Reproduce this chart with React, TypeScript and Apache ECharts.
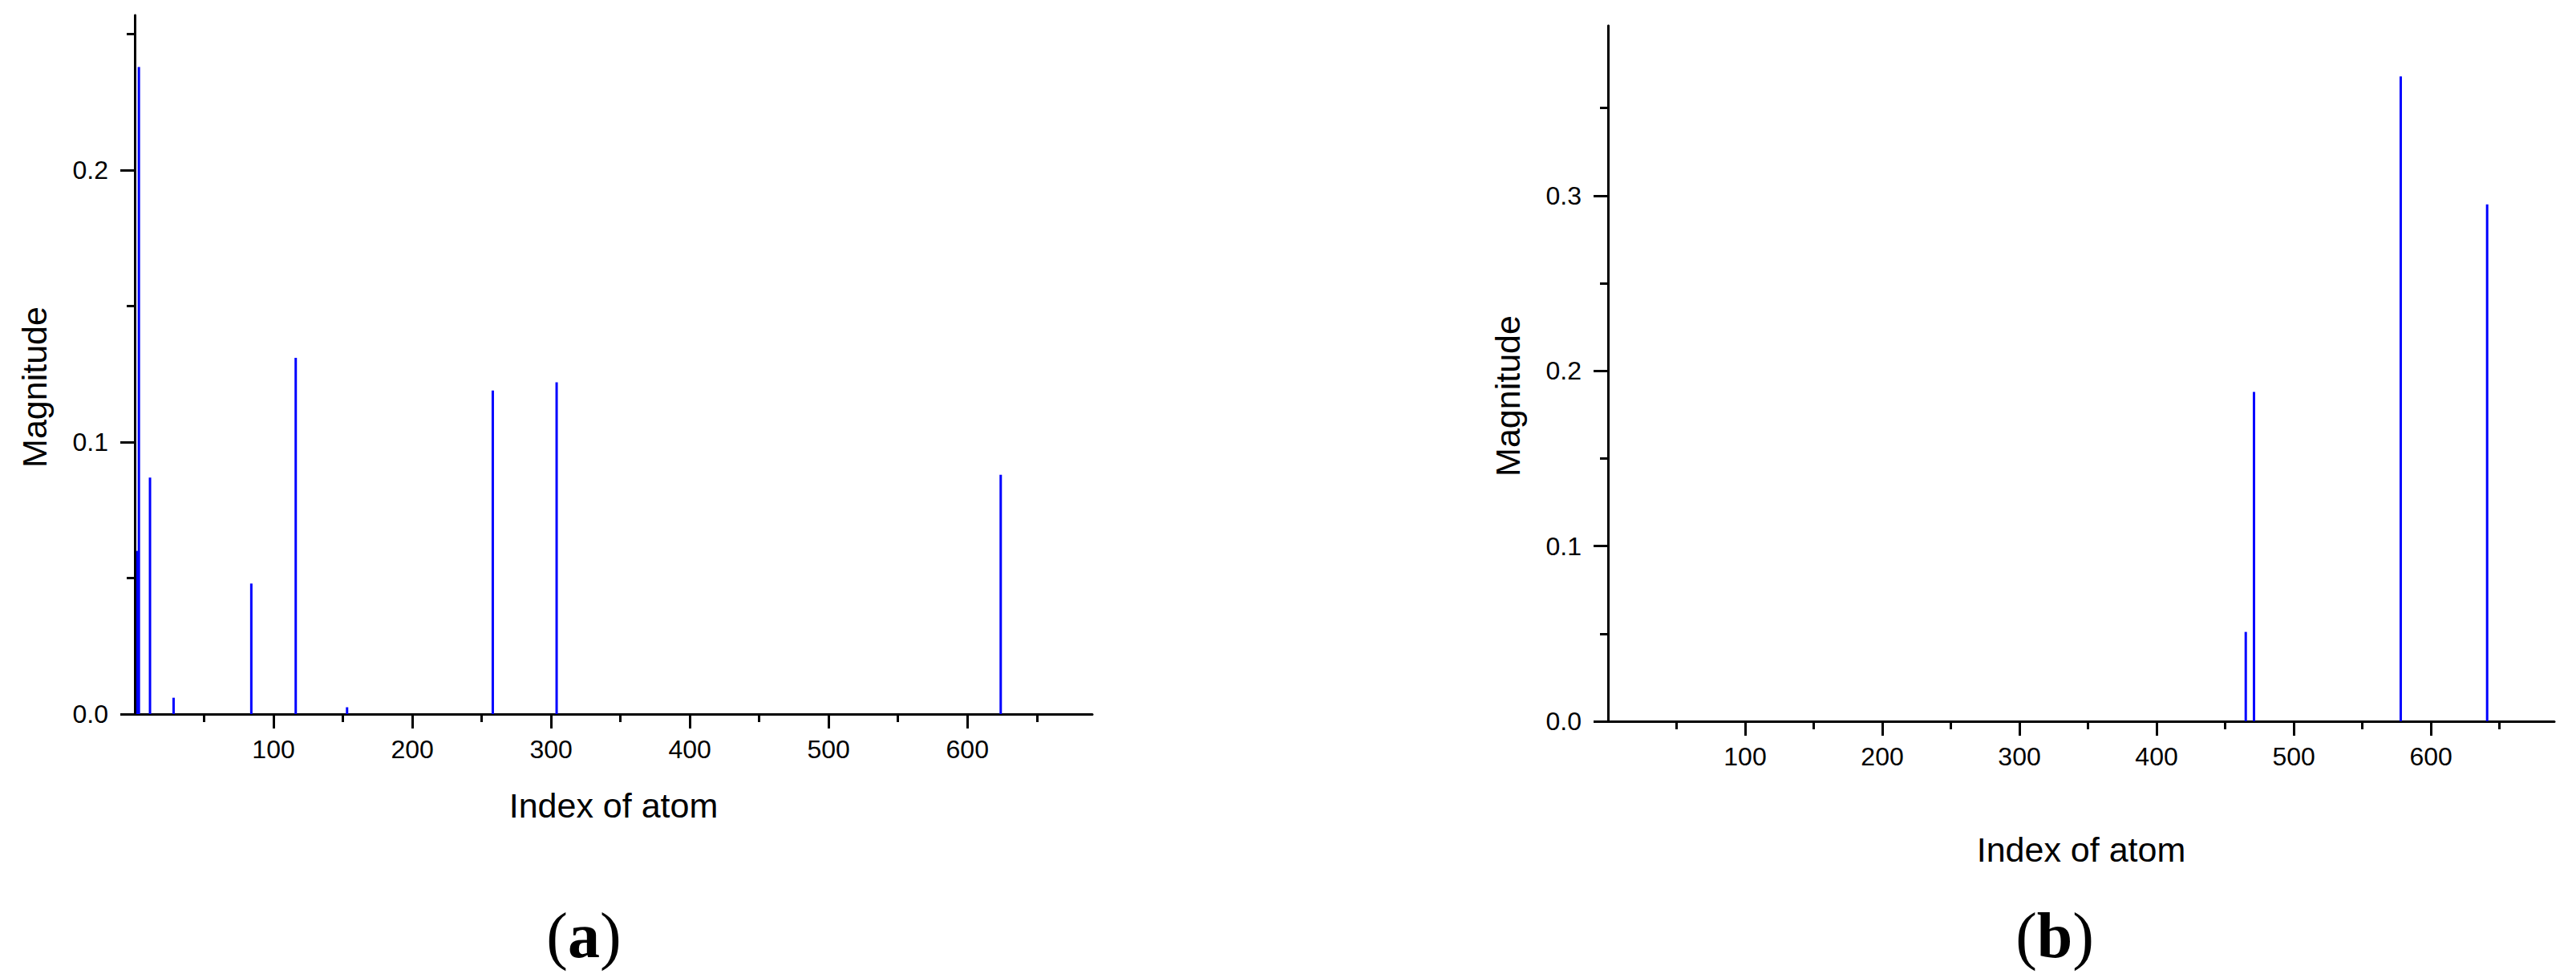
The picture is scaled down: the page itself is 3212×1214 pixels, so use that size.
import React, { useEffect, useRef } from "react";
import * as echarts from "echarts";

// Panel (a)
const atomsA = [2, 3, 11, 28, 84, 116, 153, 258, 304, 624];
const magnitudeA = [0.06, 0.238, 0.087, 0.006, 0.048, 0.131, 0.0025, 0.119, 0.122, 0.088];
// Panel (b)
const atomsB = [465, 471, 578, 641];
const magnitudeB = [0.051, 0.188, 0.368, 0.295];

const xTickValues = [100, 200, 300, 400, 500, 600];
const yTickValuesA = [0, 0.1, 0.2];
const yTickValuesB = [0, 0.1, 0.2, 0.3];
const xTitle = "Index of atom";
const yTitle = "Magnitude";
const panelLabels = ["a", "b"];

const FONT = "'Liberation Sans', Arial, sans-serif";
const SERIF = "'Liberation Serif', 'Times New Roman', serif";

function makeX(gridIndex: number, nameGap: number) {
  return {
    type: "value",
    gridIndex,
    min: 0,
    max: 690,
    interval: 100,
    name: xTitle,
    nameLocation: "middle",
    nameGap,
    nameTextStyle: { fontFamily: FONT, fontSize: 43, color: "#000" },
    axisLine: { show: true, onZero: false, lineStyle: { color: "#000", width: 3 } },
    axisTick: { show: true, length: 18, customValues: xTickValues, lineStyle: { color: "#000", width: 3 } },
    minorTick: { show: true, splitNumber: 2, length: 10, lineStyle: { color: "#000", width: 3 } },
    axisLabel: {
      show: true,
      customValues: xTickValues,
      margin: 28,
      fontFamily: FONT,
      fontSize: 32,
      color: "#000",
      formatter: (v: number) => String(v),
    },
    splitLine: { show: false },
    minorSplitLine: { show: false },
  };
}

function makeY(gridIndex: number, max: number, ticks: number[]) {
  return {
    type: "value",
    gridIndex,
    min: 0,
    max,
    interval: 0.1,
    name: yTitle,
    nameLocation: "middle",
    nameGap: 104,
    nameTextStyle: { fontFamily: FONT, fontSize: 43, color: "#000", padding: [0, 56, 0, 0] },
    axisLine: { show: true, onZero: false, lineStyle: { color: "#000", width: 3 } },
    axisTick: { show: true, length: 18, customValues: ticks, lineStyle: { color: "#000", width: 3 } },
    minorTick: { show: true, splitNumber: 2, length: 10, lineStyle: { color: "#000", width: 3 } },
    axisLabel: {
      show: true,
      customValues: ticks,
      margin: 33,
      fontFamily: FONT,
      fontSize: 32,
      color: "#000",
      formatter: (v: number) => v.toFixed(1),
    },
    splitLine: { show: false },
    minorSplitLine: { show: false },
  };
}

export default function App() {
  const ref = useRef<HTMLDivElement>(null);

  useEffect(() => {
    if (!ref.current) return;
    const chart = echarts.init(ref.current, null, { renderer: "svg" });
    const dataA = atomsA.map((x, i) => [x, magnitudeA[i]]);
    const dataB = atomsB.map((x, i) => [x, magnitudeB[i]]);
    const labelText = (c: string) => `{n|(}{b|${c}}{n|)}`;
    const rich = {
      n: { fontFamily: SERIF, fontSize: 80, color: "#000" },
      b: { fontFamily: SERIF, fontSize: 80, fontWeight: "bold", color: "#000" },
    };
    chart.setOption({
      animation: false,
      backgroundColor: "#fff",
      grid: [
        { left: 168, top: 19, width: 1194, height: 871, containLabel: false },
        { left: 2005, top: 32, width: 1180, height: 867, containLabel: false },
      ],
      xAxis: [makeX(0, 92), makeX(1, 138)],
      yAxis: [makeY(0, 0.257, yTickValuesA), makeY(1, 0.397, yTickValuesB)],
      series: [
        {
          type: "bar",
          xAxisIndex: 0,
          yAxisIndex: 0,
          data: dataA,
          barWidth: 3,
          itemStyle: { color: "#0000ff" },
        },
        {
          type: "bar",
          xAxisIndex: 1,
          yAxisIndex: 1,
          data: dataB,
          barWidth: 3,
          itemStyle: { color: "#0000ff" },
        },
      ],
      graphic: [
        {
          type: "text",
          x: 728,
          y: 1166,
          style: { text: labelText(panelLabels[0]), rich, align: "center", verticalAlign: "middle" },
        },
        {
          type: "text",
          x: 2562,
          y: 1166,
          style: { text: labelText(panelLabels[1]), rich, align: "center", verticalAlign: "middle" },
        },
      ],
    });
    return () => chart.dispose();
  }, []);

  return (
    <div
      ref={ref}
      style={{ position: "fixed", left: 0, top: 0, width: 3212, height: 1214, background: "#fff" }}
    />
  );
}
